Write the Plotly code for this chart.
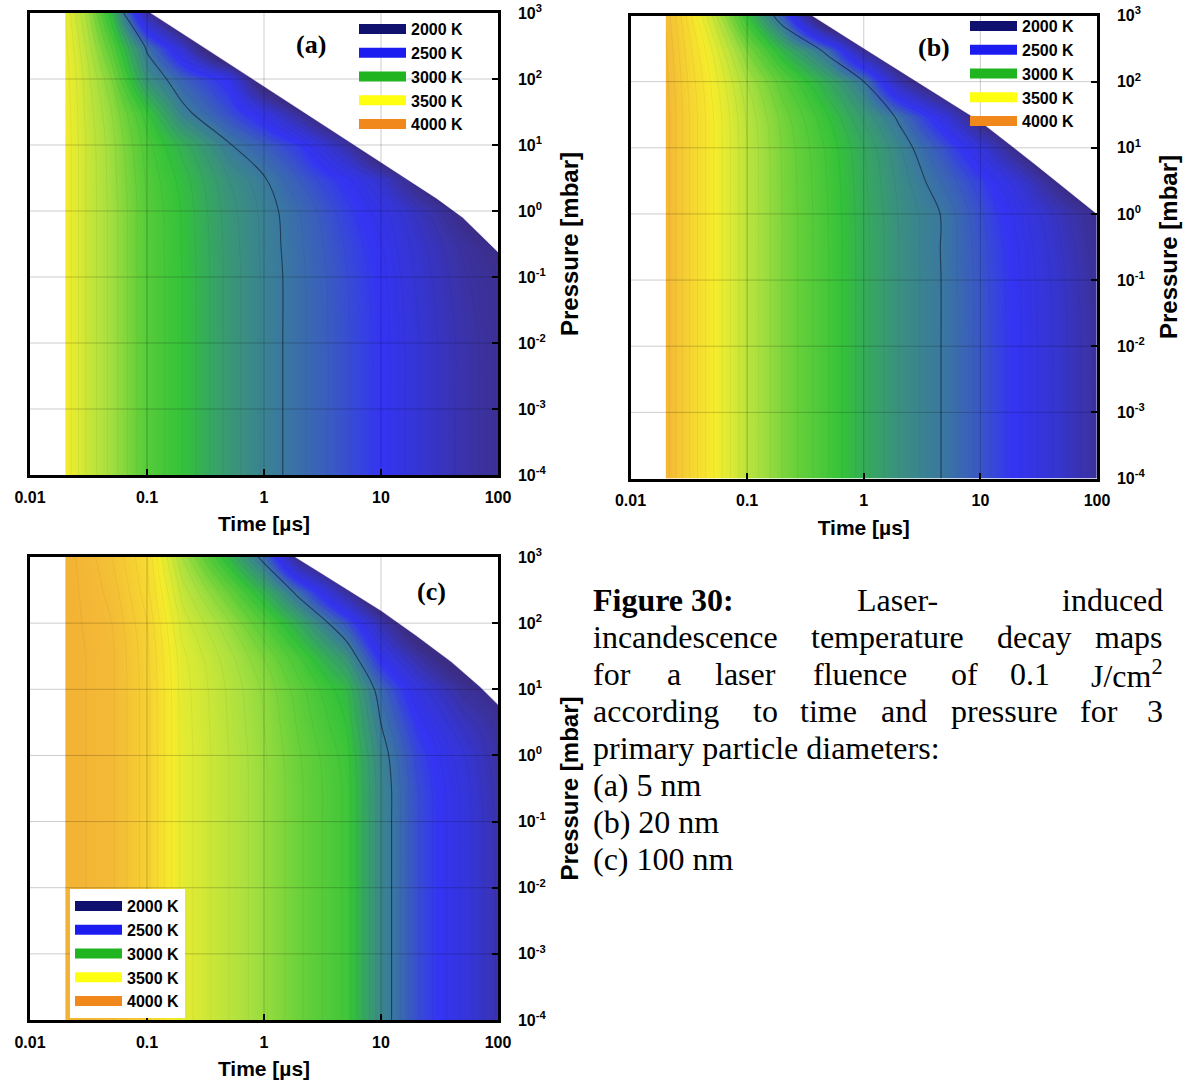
import numpy as np
import plotly.graph_objects as go

W, H = 1192, 1086

# ---------------- data ----------------
times_us = [0.02, 0.03, 0.05, 0.1, 0.2, 0.5, 1, 2, 5, 10, 20, 50, 100]
pressures_mbar = [1e-4, 1e-3, 1e-2, 0.1, 0.3, 1, 3, 10, 30, 100, 300, 1000]

# temperature [K]; rows = pressures, columns = times
temp_a = [
    [3540, 3400, 3280, 3100, 3000, 2830, 2740, 2665, 2560, 2480, 2360, 2230, 2165],
    [3540, 3400, 3280, 3100, 3000, 2830, 2740, 2665, 2560, 2480, 2360, 2230, 2165],
    [3540, 3400, 3280, 3100, 3000, 2830, 2740, 2665, 2560, 2480, 2360, 2230, 2165],
    [3540, 3400, 3280, 3100, 3000, 2830, 2740, 2665, 2555, 2470, 2345, 2210, 2150],
    [3540, 3400, 3280, 3100, 2998, 2828, 2737, 2660, 2545, 2455, 2330, 2190, 2110],
    [3540, 3400, 3280, 3100, 2995, 2820, 2735, 2650, 2520, 2420, 2290, 2100, 1900],
    [3540, 3400, 3275, 3090, 2980, 2800, 2710, 2600, 2470, 2330, 2100, 1800, 1600],
    [3540, 3400, 3270, 3070, 2930, 2710, 2610, 2500, 2230, 1900, 1700, 1500, 1400],
    [3540, 3390, 3250, 3020, 2740, 2560, 2420, 2180, 1850, 1650, 1500, 1400, 1300],
    [3530, 3380, 3200, 2800, 2620, 2450, 1950, 1700, 1500, 1400, 1300, 1200, 1100],
    [3520, 3350, 3100, 2680, 2350, 1750, 1500, 1350, 1250, 1150, 1100, 1050, 1000],
    [3500, 3300, 2950, 2200, 1800, 1400, 1200, 1100, 1000, 950, 900, 850, 800],
]
temp_b = [
    [3880, 3720, 3560, 3350, 3200, 3050, 2920, 2800, 2690, 2580, 2470, 2320, 2190],
    [3880, 3720, 3560, 3350, 3200, 3050, 2920, 2800, 2690, 2580, 2470, 2320, 2190],
    [3880, 3720, 3560, 3350, 3200, 3050, 2920, 2800, 2690, 2580, 2470, 2320, 2190],
    [3880, 3720, 3560, 3350, 3200, 3050, 2920, 2800, 2690, 2578, 2466, 2312, 2180],
    [3880, 3720, 3560, 3350, 3200, 3050, 2920, 2800, 2688, 2574, 2460, 2300, 2165],
    [3880, 3720, 3560, 3350, 3200, 3048, 2918, 2796, 2688, 2560, 2440, 2270, 2140],
    [3880, 3720, 3560, 3350, 3198, 3044, 2912, 2785, 2640, 2520, 2380, 2100, 1900],
    [3880, 3720, 3560, 3350, 3195, 3035, 2900, 2760, 2560, 2380, 2120, 1800, 1700],
    [3880, 3720, 3560, 3340, 3180, 3000, 2840, 2680, 2380, 2050, 1900, 1700, 1500],
    [3870, 3710, 3540, 3300, 3120, 2900, 2700, 2250, 1900, 1800, 1700, 1500, 1400],
    [3860, 3690, 3500, 3200, 2950, 2650, 2170, 1900, 1700, 1500, 1400, 1300, 1200],
    [3840, 3650, 3400, 3000, 2600, 1800, 1600, 1500, 1400, 1300, 1200, 1100, 1000],
]
temp_c = [
    [3920, 3900, 3860, 3720, 3480, 3350, 3260, 3160, 3040, 2760, 2560, 2390, 2240],
    [3920, 3900, 3860, 3720, 3480, 3350, 3260, 3160, 3040, 2760, 2560, 2390, 2240],
    [3920, 3900, 3860, 3720, 3480, 3350, 3260, 3160, 3040, 2760, 2560, 2390, 2240],
    [3920, 3900, 3860, 3720, 3480, 3350, 3260, 3160, 3040, 2760, 2560, 2390, 2235],
    [3920, 3900, 3860, 3720, 3480, 3350, 3260, 3160, 3040, 2760, 2560, 2385, 2225],
    [3920, 3900, 3860, 3720, 3480, 3350, 3258, 3155, 3030, 2745, 2540, 2360, 2205],
    [3920, 3900, 3860, 3720, 3478, 3345, 3250, 3140, 3000, 2700, 2490, 2290, 2180],
    [3920, 3900, 3860, 3720, 3475, 3340, 3240, 3120, 2960, 2640, 2400, 2180, 2100],
    [3920, 3900, 3860, 3715, 3465, 3320, 3200, 3060, 2820, 2450, 2230, 1950, 1700],
    [3920, 3895, 3850, 3700, 3430, 3260, 3100, 2900, 2580, 2250, 1950, 1700, 1500],
    [3920, 3890, 3830, 3670, 3380, 3150, 2930, 2650, 2200, 1850, 1700, 1500, 1400],
    [3920, 3880, 3800, 3650, 3300, 2950, 2650, 2100, 1800, 1600, 1500, 1400, 1300],
]

# upper-right limit of each computed map (beyond it the map is blank)
edge_a_t = [0.108, 0.3, 1, 3, 10, 30, 50, 100]
edge_a_p = [1000, 310, 77, 22, 5.5, 1.55, 0.8, 0.24]
edge_b_t = [0.36, 1, 3, 10, 30, 50, 100]
edge_b_p = [1000, 320, 95, 25, 5.5, 2.7, 1.0]
edge_c_t = [1.85, 3, 5, 10, 20, 40, 70, 100]
edge_c_p = [1000, 590, 335, 155, 65, 26, 11, 5.9]

highlight_K = 2700       # darker contour line

legend_labels = ["2000 K", "2500 K", "3000 K", "3500 K", "4000 K"]
legend_colors = ["#10106e", "#1c1cf0", "#20b420", "#ffff10", "#f0881c"]

scale_T = [2100, 2200, 2350, 2480, 2600, 2700, 2800, 2900, 3000,
           3150, 3300, 3450, 3550, 3700, 3850, 4000]
scale_colors = ["#3b2c84", "#3b32a0", "#3535d4", "#3434f4", "#3a5cc0", "#3a78a0",
                "#3a9080", "#36a860", "#34c23a", "#66d03a", "#a8e040", "#dcea34",
                "#f6ec2c", "#f6d432", "#f4bc36", "#f2a834"]

x_tick_values = [0.01, 0.1, 1, 10, 100]
x_ticktext = ["0.01", "0.1", "1", "10", "100"]
y_tick_values = [1e-4, 1e-3, 1e-2, 1e-1, 1, 10, 100, 1000]
y_ticktext = ["10<sup>-4</sup>", "10<sup>-3</sup>", "10<sup>-2</sup>", "10<sup>-1</sup>",
              "10<sup>0</sup>", "10<sup>1</sup>", "10<sup>2</sup>", "10<sup>3</sup>"]

panel_tags = ["(a)", "(b)", "(c)"]

# ---------------- layout geometry (pixels) ----------------
panels = [
    dict(z=temp_a, et=edge_a_t, ep=edge_a_p, x0=30, x1=498, y0=13, y1=475, tag=(311, 45),
         leg=dict(x=354, y=12, bg="rgba(0,0,0,0)")),
    dict(z=temp_b, et=edge_b_t, ep=edge_b_p, x0=630.5, x1=1097, y0=15.5, y1=478.5, tag=(934, 47),
         leg=dict(x=965, y=9, bg="rgba(0,0,0,0)")),
    dict(z=temp_c, et=edge_c_t, ep=edge_c_p, x0=30, x1=498, y0=557, y1=1020, tag=(431, 591),
         leg=dict(x=70, y=889, bg="white")),
]

T0, T1 = scale_T[0], scale_T[-1]
colorscale = [[(t - T0) / (T1 - T0), c] for t, c in zip(scale_T, scale_colors)]

# the axes are decades: plot log10 of time and pressure on linear axes
lt = np.log10(times_us)
lp = np.log10(pressures_mbar)
x_tickvals = np.log10(x_tick_values)
y_tickvals = np.log10(y_tick_values)

SANS = "Liberation Sans, Arial, sans-serif"
SERIF = "Liberation Serif, Times New Roman, serif"

def bold(s):
    return "<b>%s</b>" % s

fig = go.Figure()
shapes = []
annotations = []
layout_axes = {}

for i, pn in enumerate(panels, start=1):
    sfx = "" if i == 1 else str(i)
    xa, ya = "x" + sfx, "y" + sfx
    legname = "legend" + sfx

    fig.add_trace(go.Contour(
        x=lt, y=lp, z=pn["z"], xaxis=xa, yaxis=ya,
        colorscale=colorscale, zmin=T0, zmax=T1, showscale=False,
        autocontour=False,
        contours=dict(coloring="heatmap", start=2150, end=3950, size=50, showlines=True),
        line=dict(color="rgba(0,0,0,0.08)", width=0.6),
        hoverinfo="skip", showlegend=False))
    # blank region beyond the limit of the computed map
    ex = list(np.log10(pn["et"])) + [x_tickvals[-1] + 0.05, x_tickvals[-1] + 0.05]
    ey = list(np.log10(pn["ep"])) + [y_tickvals[-1] + 0.05, y_tickvals[-1] + 0.05]
    ex[0:0] = [ex[0]]
    ey[0:0] = [y_tickvals[-1] + 0.05]
    fig.add_trace(go.Scatter(
        x=ex, y=ey, xaxis=xa, yaxis=ya, mode="lines", fill="toself",
        fillcolor="white", line=dict(color="white", width=0.5),
        hoverinfo="skip", showlegend=False))
    fig.add_trace(go.Contour(
        x=lt, y=lp, z=pn["z"], xaxis=xa, yaxis=ya,
        showscale=False, autocontour=False,
        contours=dict(coloring="none", start=highlight_K, end=highlight_K, size=100),
        line=dict(color="rgba(15,25,45,0.6)", width=1.1),
        hoverinfo="skip", showlegend=False))

    for lab, col in zip(legend_labels, legend_colors):
        fig.add_trace(go.Scatter(
            x=[None], y=[None], xaxis=xa, yaxis=ya, mode="lines",
            line=dict(color=col, width=10), name=bold(lab), legend=legname))

    # grid lines drawn over the map
    for xv in x_tickvals[1:-1]:
        shapes.append(dict(type="line", xref=xa, yref=ya + " domain", x0=xv, x1=xv, y0=0, y1=1,
                           line=dict(color="rgba(0,0,0,0.2)", width=1), layer="above"))
    for yv in y_tickvals[1:-1]:
        shapes.append(dict(type="line", xref=xa + " domain", yref=ya, x0=0, x1=1, y0=yv, y1=yv,
                           line=dict(color="rgba(0,0,0,0.2)", width=1), layer="above"))

    layout_axes["xaxis" + sfx] = dict(
        type="linear", range=[x_tickvals[0] - 1e-6, x_tickvals[-1] + 1e-6],
        domain=[pn["x0"] / W, pn["x1"] / W], anchor=ya, automargin=False,
        tickvals=x_tickvals, ticktext=[bold(t) for t in x_ticktext],
        ticks="inside", ticklen=6, tickwidth=1.5, tickcolor="black",
        showline=True, linewidth=2.5, linecolor="black", mirror=True,
        showgrid=False, zeroline=False, ticklabelstandoff=6, ticklabeloverflow="allow",
        tickfont=dict(family=SANS, size=16, color="black"),
        title=dict(text=bold("Time [µs]"), standoff=12,
                   font=dict(family=SANS, size=21, color="black")))
    layout_axes["yaxis" + sfx] = dict(
        type="linear", range=[y_tickvals[0] - 1e-6, y_tickvals[-1] + 1e-6], side="right",
        domain=[1 - pn["y1"] / H, 1 - pn["y0"] / H], anchor=xa, automargin=False,
        tickvals=y_tickvals, ticktext=[bold(t) for t in y_ticktext],
        ticks="inside", ticklen=6, tickwidth=1.5, tickcolor="black",
        showline=True, linewidth=2.5, linecolor="black", mirror=True,
        showgrid=False, zeroline=False, ticklabelstandoff=14, ticklabeloverflow="allow",
        tickfont=dict(family=SANS, size=16, color="black"),
        title=dict(text=bold("Pressure [mbar]"), standoff=16,
                   font=dict(family=SANS, size=24, color="black")))

    lg = pn["leg"]
    layout_axes[legname] = dict(
        x=lg["x"] / W, y=1 - lg["y"] / H, xanchor="left", yanchor="top",
        bgcolor=lg["bg"], borderwidth=0, tracegroupgap=0, itemwidth=47,
        font=dict(family=SANS, size=16, color="black"))

    tx, ty = pn["tag"]
    annotations.append(dict(text=bold(panel_tags[i - 1]), xref="paper", yref="paper",
                            x=tx / W, y=1 - ty / H, xanchor="center", yanchor="middle",
                            showarrow=False, font=dict(family=SERIF, size=26, color="black")))

# ---------------- caption (justified lines built word by word) ----------------
cap_left, cap_right = 591, 1165
cap_y = [600, 637, 674, 711, 748, 785, 822, 859]
caption_words = [
    [("<b>Figure 30:</b>", 0.0), ("Laser-", 0.46), ("induced", None)],
    [("incandescence", 0.0), ("temperature", 0.38), ("decay", 0.703), ("maps", None)],
    [("for", 0.0), ("a", 0.129), ("laser", 0.213), ("fluence", 0.384), ("of", 0.624),
     ("0.1", 0.726), ("J/cm<sup>2</sup>", None)],
    [("according", 0.0), ("to", 0.278), ("time", 0.361), ("and", 0.502), ("pressure", 0.624),
     ("for", 0.848), ("3", None)],
    [("primary particle diameters:", 0.0)],
    [("(a) 5 nm", 0.0)],
    [("(b) 20 nm", 0.0)],
    [("(c) 100 nm", 0.0)],
]
for words, yy in zip(caption_words, cap_y):
    for txt, frac in words:
        right = frac is None
        xx = cap_right if right else cap_left + frac * (cap_right - cap_left)
        annotations.append(dict(
            text=txt, xref="paper", yref="paper", x=xx / W, y=1 - yy / H,
            xanchor="right" if right else "left", yanchor="middle",
            showarrow=False, font=dict(family=SERIF, size=32, color="black")))

fig.update_layout(
    width=W, height=H, margin=dict(l=0, r=0, t=0, b=0, autoexpand=False),
    paper_bgcolor="white", plot_bgcolor="white",
    shapes=shapes, annotations=annotations, **layout_axes)

fig.write_html("out.html")
